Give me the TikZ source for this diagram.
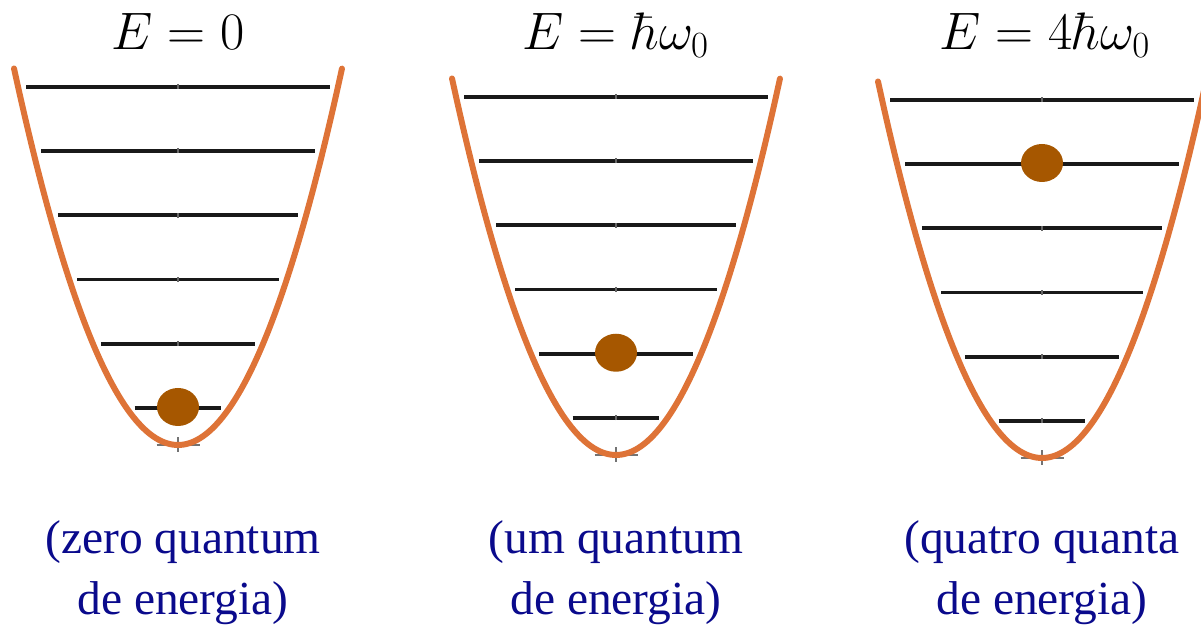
\RequirePackage{fix-cm}
\documentclass[tikz,border=0pt]{standalone}
\usepackage{fontspec}
\usetikzlibrary{shapes.geometric, positioning}
\newfontfamily\labelfont{Liberation Serif}
\definecolor{wellorange}{RGB}{222,115,55}
\definecolor{ballbrown}{RGB}{166,87,0}
\definecolor{labelblue}{RGB}{10,10,140}

\begin{document}
\begin{tikzpicture}[
    well/.style={draw=wellorange, line width=3.4pt, line cap=round},
    level/.style={draw=black!90, line width=2.1pt},
    midtick/.style={draw=black!60, line width=0.6pt},
    groundtick/.style={draw=black!55, line width=1pt},
    ball/.style={ellipse, fill=ballbrown, inner sep=0pt,
                 minimum width=0.84cm, minimum height=0.76cm},
    title/.style={anchor=base, font=\fontsize{30}{36}\selectfont},
    caption/.style={anchor=base, align=center, text=labelblue,
                    font=\labelfont\fontsize{27}{35}\selectfont}
]
\useasboundingbox (0,0) rectangle (24.02,12.56);

%% ── Wells with their levels and the particle ──
\foreach \cx/\cy/\lv/\nm in {3.56/3.66/0/A, 12.32/3.46/1/B, 20.84/3.40/4/C}{
  \begin{scope}[shift={(\cx,\cy)}]
    \foreach \n in {0,...,5}{
      \pgfmathsetmacro{\h}{0.74+1.285*\n}
      \pgfmathsetmacro{\w}{sqrt(\h/0.70)-0.16}
      \draw[level] (-\w,\h) -- (\w,\h);
      \draw[midtick] (0,\h-0.05) -- (0,\h+0.05);
    }
    \draw[groundtick] (-0.43,0) -- (0.43,0);
    \draw[groundtick] (0,-0.14) -- (0,0.16);
    \draw[well] plot[domain=-3.28:3.28, samples=60, smooth] (\x,{0.70*\x*\x});
    \pgfmathsetmacro{\hb}{0.76+1.285*\lv}
    \node[ball] (ball\nm) at (0,\hb) {};
  \end{scope}
}

%% ── Energies ──
\node[title] (EA) at (3.56,11.56)  {$E=0$};
\node[title] (EB) at (12.32,11.56) {$E=\hbar\omega_0$};
\node[title] (EC) at (20.90,11.56) {$E=4\hbar\omega_0$};

%% ── Captions (base = last line) ──
\node[caption] (capA) at (3.66,0.26)  {(zero quantum\\de energia)};
\node[caption] (capB) at (12.32,0.26) {(um quantum\\de energia)};
\node[caption] (capC) at (20.84,0.26) {(quatro quanta\\de energia)};

\end{tikzpicture}
\end{document}
